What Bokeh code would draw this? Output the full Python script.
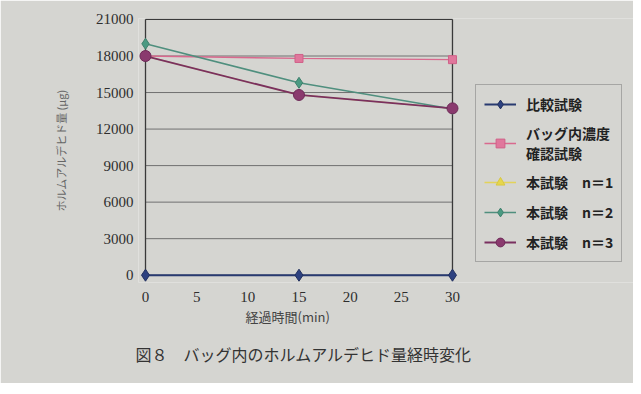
from bokeh.plotting import figure
from bokeh.models import (Range1d, FixedTicker, Legend, LegendItem, Title)
from bokeh.embed import file_html
from bokeh.resources import INLINE

# ---- data ----
times = [0, 15, 30]
hikaku = [0, 0, 0]                      # 比較試験
bag_conc = [18000, 17800, 17700]        # バッグ内濃度確認試験
n1 = [18000, 14800, 13700]              # 本試験 n=1 (hidden under n=3)
n2 = [19000, 15800, 13650]              # 本試験 n=2
n3 = [18000, 14800, 13700]              # 本試験 n=3
y_ticks = [0, 3000, 6000, 9000, 12000, 15000, 18000, 21000]
x_ticks = [0, 5, 10, 15, 20, 25, 30]

labels = ["比較試験", "バッグ内濃度\n確認試験", "本試験　n＝1", "本試験　n＝2", "本試験　n＝3"]
x_title = "経過時間(min)"
y_title = "ホルムアルデヒド量 (μg)"
caption = "図８　バッグ内のホルムアルデヒド量経時変化"

BG = "#d5d5d1"
JP = "Noto Sans CJK JP"
SERIF = "Liberation Serif"

# the frame also spans the legend area on the right
p = figure(width=633, height=383, output_backend="svg", toolbar_location=None,
           x_range=Range1d(-0.684, 47.69), y_range=Range1d(-600, 21080),
           min_border_left=138, min_border_right=0, min_border_top=18,
           min_border_bottom=101)
p.background_fill_color = BG
p.border_fill_color = BG
p.outline_line_color = None
p.xgrid.grid_line_color = None
p.ygrid.grid_line_color = None

for ax in (p.xaxis[0], p.yaxis[0]):
    ax.axis_line_color = None
    ax.major_tick_line_color = None
    ax.minor_tick_line_color = None
    ax.major_tick_out = 0
    ax.major_tick_in = 0
    ax.minor_tick_out = 0
    ax.major_label_text_font = SERIF
    ax.major_label_text_font_size = "15px"
    ax.major_label_text_color = "#2e2e2e"

p.yaxis.ticker = FixedTicker(ticks=y_ticks)
p.xaxis.ticker = FixedTicker(ticks=x_ticks)
p.yaxis.major_label_standoff = 5
p.xaxis.major_label_standoff = 9
p.yaxis.axis_label = y_title
p.yaxis.axis_label_text_font = JP
p.yaxis.axis_label_text_font_style = "normal"
p.yaxis.axis_label_text_font_size = "11px"
p.yaxis.axis_label_text_color = "#666666"
p.yaxis.axis_label_standoff = 24

# horizontal grid lines and chart border, spanning the x domain
x0, x1 = x_ticks[0], x_ticks[-1]
p.segment(x0=[x0] * len(y_ticks), x1=[x1] * len(y_ticks), y0=y_ticks, y1=y_ticks,
          line_color="#707070", line_width=1)
p.segment(x0=[x0, x1], x1=[x0, x1], y0=[y_ticks[0]] * 2, y1=[y_ticks[-1]] * 2,
          line_color="#3a3a3a", line_width=1.3)
p.segment(x0=[x0], x1=[x1], y0=[y_ticks[-1]], y1=[y_ticks[-1]],
          line_color="#3a3a3a", line_width=1.3)

items = []
r = [p.line(times, hikaku, line_color="#283a70", line_width=2),
     p.scatter(times, hikaku, marker="diamond", size=12, fill_color="#2d4180", line_color="#22305e")]
items.append(LegendItem(label=labels[0], renderers=r))
r = [p.line(times, bag_conc, line_color="#d9698e", line_width=1.3),
     p.scatter(times, bag_conc, marker="square", size=8, fill_color="#e0779c", line_color="#d06088")]
items.append(LegendItem(label=labels[1], renderers=r))
r = [p.line(times, n1, line_color="#e3d35a", line_width=1.3),
     p.scatter(times, n1, marker="triangle", size=9, fill_color="#e6d64c", line_color="#d8c840")]
items.append(LegendItem(label=labels[2], renderers=r))
r = [p.line(times, n2, line_color="#4f8f7e", line_width=1.5),
     p.scatter(times, n2, marker="diamond", size=11, fill_color="#4a9a82", line_color="#3e806c")]
items.append(LegendItem(label=labels[3], renderers=r))
r = [p.line(times, n3, line_color="#7a3060", line_width=1.8),
     p.scatter(times, n3, marker="circle", size=11, fill_color="#8a3a6e", line_color="#6e2a58")]
items.append(LegendItem(label=labels[4], renderers=r))

legend = Legend(items=items, location=(337, 20), orientation="vertical",
                background_fill_color=BG, background_fill_alpha=1,
                border_line_color="#777777", border_line_width=1,
                label_text_font=JP, label_text_font_size="14px",
                label_text_color="#222222", label_text_font_style="bold",
                glyph_width=32, glyph_height=22, label_height=22,
                label_standoff=10, spacing=8, padding=8, margin=0)
p.add_layout(legend, "center")

xt = Title(text=x_title, align="left", offset=107,
           text_font=JP, text_font_size="13px", text_color="#444444",
           text_font_style="normal", standoff=0)
p.add_layout(xt, "below")

cap = Title(text=caption, align="left", offset=-3,
            text_font=JP, text_font_size="16px", text_color="#333333",
            text_font_style="normal", standoff=28)
p.add_layout(cap, "below")

open("out.html", "w").write(file_html(p, INLINE))
